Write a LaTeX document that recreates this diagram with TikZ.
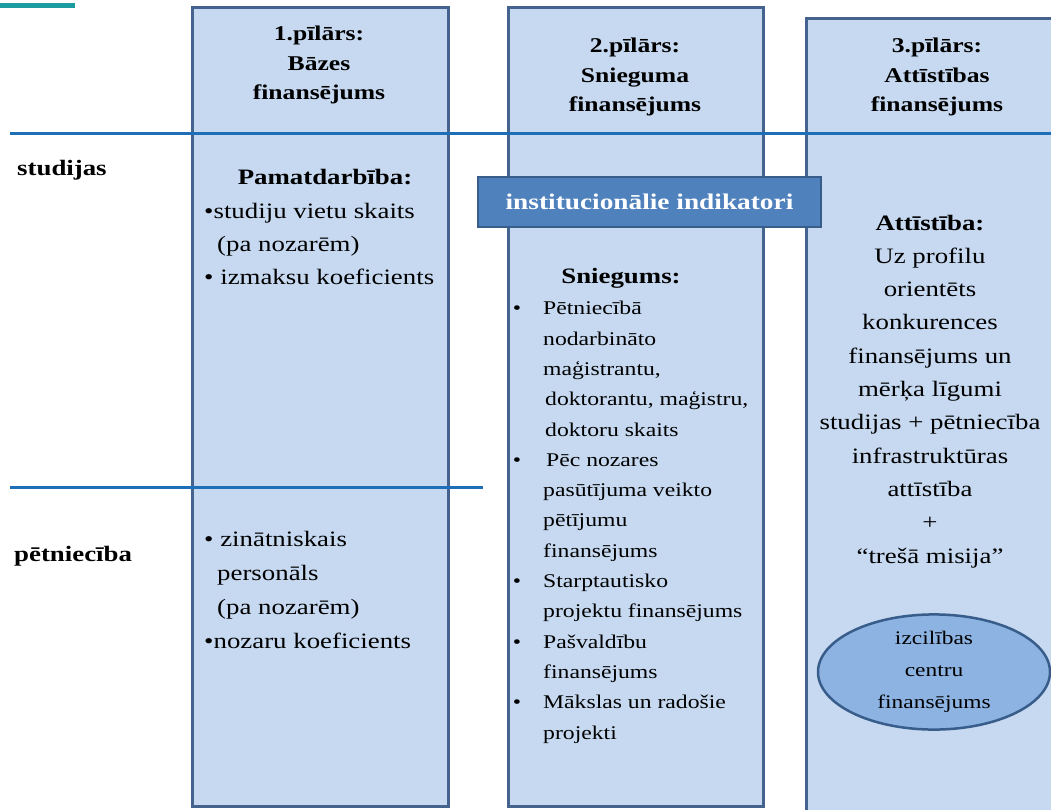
\documentclass[tikz,border=0pt]{standalone}
\usepackage{fontspec}
\setmainfont{Liberation Serif}[FakeStretch=1.22]
\usetikzlibrary{shapes.geometric}
\definecolor{boxfill}{HTML}{C6D9F0}
\definecolor{boxline}{HTML}{44648F}
\definecolor{rowline}{HTML}{1F6FB8}
\definecolor{tealbar}{HTML}{1A9BA0}
\definecolor{indfill}{HTML}{4F81BD}
\definecolor{indline}{HTML}{385D8A}
\definecolor{ellfill}{HTML}{8DB3E2}
\begin{document}
\begin{tikzpicture}[x=1pt,y=-1pt,
  pillar/.style={draw=boxline, line width=3pt, fill=boxfill},
  rowrule/.style={draw=rowline, line width=3pt},
  hdr/.style={font=\bfseries\fontsize{21}{29.5}\selectfont, align=center, inner sep=0pt},
  rowlbl/.style={font=\bfseries\fontsize{22}{26}\selectfont, inner sep=0pt, anchor=base west},
  bighead/.style={font=\bfseries\fontsize{22}{26}\selectfont, inner sep=0pt, anchor=base},
  body/.style={font=\fontsize{22}{33}\selectfont, inner sep=0pt},
  small/.style={font=\fontsize{19.4}{30.3}\selectfont, inner sep=0pt},
  indbox/.style={draw=indline, line width=2pt, fill=indfill, text=white,
    font=\bfseries\fontsize{22.4}{26}\selectfont, minimum width=343pt, minimum height=50pt, inner sep=0pt},
  centreell/.style={ellipse, draw=indline, line width=2.5pt, fill=ellfill,
    minimum width=232pt, minimum height=101pt, inner sep=0pt, align=center,
    font=\fontsize{19.2}{32}\selectfont}]
\useasboundingbox (0,0) rectangle (1051,810);
\clip (0,0) rectangle (1051,810);
% pillars
\path[pillar] (192,8) rectangle (448,806);
\path[pillar] (508,8) rectangle (763,806);
\path[pillar] (806,19) rectangle (1062,830);
% top teal mark
\fill[tealbar] (0,3) rectangle (75,8);
% row rules
\coordinate (r1a) at (10,134);
\coordinate (r1b) at (1060,134);
\coordinate (r2a) at (10,487);
\coordinate (r2b) at (483,487);
\draw[rowrule] (r1a) -- (r1b);
\draw[rowrule] (r2a) -- (r2b);
% headers
\node[hdr] (h1) at (319,65) {1.pīlārs:\\Bāzes\\finansējums};
\node[hdr] (h2) at (635,77) {2.pīlārs:\\Snieguma\\finansējums};
\node[hdr] (h3) at (937,77) {3.pīlārs:\\Attīstības\\finansējums};
% row labels
\node[rowlbl] (studijas) at (17,176) {studijas};
\node[rowlbl] (petn) at (14,561) {pētniecība};
% column 1
\node[bighead] (pamat) at (325,185) {Pamatdarbība:};
\node[body, anchor=base west, align=left] (c1a) at (204,284)
  {•studiju vietu skaits\\\hspace{13pt}(pa nozarēm)\\• izmaksu koeficients};
\node[body, font=\fontsize{22}{33.7}\selectfont, anchor=base west, align=left] (c1b) at (204,648)
  {• zinātniskais\\\hspace{13pt}personāls\\\hspace{13pt}(pa nozarēm)\\•nozaru koeficients};
% institutional indicators
\node[indbox] (ind) at (649.5,202) {institucionālie indikatori};
% column 2
\node[bighead] (snieg) at (621,283) {Sniegums:};
\node[small, anchor=base west, align=left] (c2) at (543,739)
  {\llap{•\hspace{22pt}}Pētniecībā\\
   nodarbināto\\
   maģistrantu,\\
   \hspace{2pt}doktorantu, maģistru,\\
   \hspace{2pt}doktoru skaits\\
   \llap{•\hspace{22pt}}\hspace{3pt}Pēc nozares\\
   pasūtījuma veikto\\
   pētījumu\\
   finansējums\\
   \llap{•\hspace{22pt}}Starptautisko\\
   projektu finansējums\\
   \llap{•\hspace{22pt}}Pašvaldību\\
   finansējums\\
   \llap{•\hspace{22pt}}Mākslas un radošie\\
   projekti};
% column 3
\node[body, font=\fontsize{22}{33.3}\selectfont, anchor=base, align=center] (c3) at (930,563)
  {\textbf{Attīstība:}\\Uz profilu\\orientēts\\konkurences\\finansējums un\\mērķa līgumi\\studijas + pētniecība\\infrastruktūras\\attīstība\\+\\“trešā misija”};
\node[centreell] (izc) at (934,672) {izcilības\\centru\\finansējums};
\end{tikzpicture}
\end{document}
